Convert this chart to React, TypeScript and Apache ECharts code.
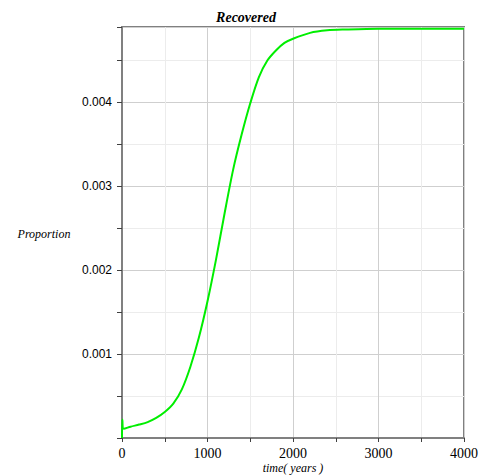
import React, { useEffect, useRef } from "react";
import * as echarts from "echarts";

const timeYears = [0, 4, 20, 100, 200, 300, 400, 500, 600, 700, 800, 900, 1000, 1100, 1200, 1300, 1400, 1500, 1600, 1700, 1800, 1900, 2000, 2200, 2400, 2600, 3000, 3500, 4000];
const recovered = [0, 0.00022, 0.00011, 0.000135, 0.00016, 0.00019, 0.00024, 0.00031, 0.00041, 0.00058, 0.00085, 0.0012, 0.00163, 0.00213, 0.00268, 0.0032, 0.00362, 0.00399, 0.0043, 0.0045, 0.00462, 0.00471, 0.00476, 0.00483, 0.00486, 0.00487, 0.00488, 0.00488, 0.00488];
const xTickLabels = [0, 1000, 2000, 3000, 4000];
const yTickLabels = [0.001, 0.002, 0.003, 0.004];

export default function App() {
  const ref = useRef<HTMLDivElement>(null);
  useEffect(() => {
    if (!ref.current) return;
    const chart = echarts.init(ref.current, null, { renderer: "svg" });
    const data = timeYears.map((t, i) => [t, recovered[i]]);
    chart.setOption({
      animation: false,
      backgroundColor: "#ffffff",
      grid: {
        left: 122,
        right: 17,
        top: 27,
        bottom: 37,
        show: true,
        borderColor: "#808080",
        borderWidth: 2,
        backgroundColor: "transparent",
      },
      graphic: [
        {
          type: "text",
          x: 246,
          y: 17,
          style: {
            text: "Recovered",
            font: "bold italic 14px 'Liberation Serif', serif",
            fill: "#000",
            textAlign: "center",
            textVerticalAlign: "middle",
          },
        },
        {
          type: "text",
          x: 44,
          y: 234,
          style: {
            text: "Proportion",
            font: "italic 12px 'Liberation Serif', serif",
            fill: "#000",
            textAlign: "center",
            textVerticalAlign: "middle",
          },
        },
        {
          type: "text",
          x: 293,
          y: 468,
          style: {
            text: "time( years )",
            font: "italic 12px 'Liberation Serif', serif",
            fill: "#000",
            textAlign: "center",
            textVerticalAlign: "middle",
          },
        },
      ],
      xAxis: {
        type: "value",
        min: 0,
        max: 4000,
        interval: 500,
        axisLine: { show: true, lineStyle: { color: "#808080", width: 2 } },
        axisTick: { show: true, inside: false, length: 4, lineStyle: { color: "#404040" } },
        axisLabel: {
          margin: 8,
          color: "#000",
          fontFamily: "'Liberation Serif', serif",
          fontSize: 14,
          showMaxLabel: true,
          formatter: (v: number) => (xTickLabels.includes(Math.round(v)) ? String(Math.round(v)) : ""),
        },
        splitLine: { show: true, lineStyle: { color: ["#cfcfcf", "#ececec"], width: 1 } },
      },
      yAxis: {
        type: "value",
        min: 0,
        max: 0.0049,
        interval: 0.0005,
        axisLine: { show: true, lineStyle: { color: "#808080", width: 2 } },
        axisTick: { show: true, inside: false, length: 5, lineStyle: { color: "#404040" } },
        axisLabel: {
          margin: 10,
          color: "#000",
          fontFamily: "'Liberation Sans', sans-serif",
          fontSize: 12,
          formatter: (v: number) => {
            const r = Math.round(v * 10000) / 10000;
            const hit = yTickLabels.find((y) => Math.abs(y - r) < 1e-9);
            return hit !== undefined ? hit.toFixed(3) : "";
          },
        },
        splitLine: { show: true, lineStyle: { color: ["#cfcfcf", "#ececec"], width: 1 } },
      },
      series: [
        {
          type: "line",
          data,
          showSymbol: false,
          smooth: 0.3,
          lineStyle: { color: "#00ee00", width: 2 },
          itemStyle: { color: "#00ee00" },
        },
      ],
    });
    return () => chart.dispose();
  }, []);
  return <div ref={ref} style={{ position: "fixed", left: 0, top: 0, width: 481, height: 475 }} />;
}
